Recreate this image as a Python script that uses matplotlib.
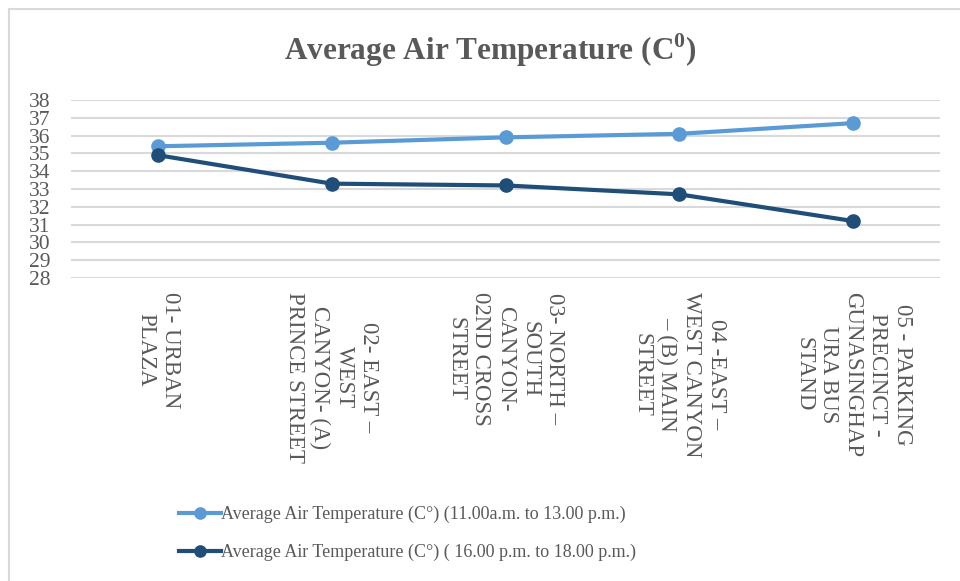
import numpy as np
import matplotlib
matplotlib.use("Agg")
import matplotlib.pyplot as plt
from matplotlib.lines import Line2D

plt.rcParams['font.family'] = ['Liberation Serif', 'DejaVu Serif']
plt.rcParams['mathtext.fontset'] = 'custom'
plt.rcParams['mathtext.rm'] = 'Liberation Serif'
plt.rcParams['mathtext.bf'] = 'Liberation Serif:bold'

# data
sites = ["01- URBAN\nPLAZA",
         "02- EAST \u2013\nWEST\nCANYON- (A)\nPRINCE STREET",
         "03- NORTH \u2013\nSOUTH\nCANYON-\n02ND CROSS\nSTREET",
         "04 -EAST \u2013\nWEST CANYON\n\u2013 (B) MAIN\nSTREET",
         "05 - PARKING\nPRECINCT -\nGUNASINGHAP\nURA BUS\nSTAND"]
temp_noon = [35.4, 35.6, 35.9, 36.1, 36.7]
temp_evening = [34.9, 33.3, 33.2, 32.7, 31.2]
label_noon = "Average Air Temperature (C\u00b0) (11.00a.m. to 13.00 p.m.)"
label_evening = "Average Air Temperature (C\u00b0) ( 16.00 p.m. to 18.00 p.m.)"
yticks = list(range(28, 39))

grey = '#595959'
light = '#5B9BD5'
dark = '#1F4E79'

fig = plt.figure(figsize=(9.6, 5.81), dpi=100)
ax = fig.add_axes([71/960, 1-278/581, (940-71)/960, (278-100)/581])

x = np.arange(len(sites))
ax.plot(x, temp_noon, color=light, lw=3, marker='o', ms=9.5, label=label_noon, zorder=3)
ax.plot(x, temp_evening, color=dark, lw=3, marker='o', ms=9.5, label=label_evening, zorder=3)

ax.set_xlim(-0.5, len(sites) - 0.5)
ax.set_ylim(28, 38)
ax.set_yticks(yticks)
ax.yaxis.grid(True, color='#d9d9d9', lw=1.5)
ax.set_axisbelow(True)
for s in ax.spines.values():
    s.set_visible(False)
ax.tick_params(axis='both', length=0, colors=grey)
ax.tick_params(axis='y', pad=15, labelsize=15.5)
ax.tick_params(axis='x', pad=10, labelsize=16.5)
ax.set_xticks(x)
ax.set_xticklabels(sites, rotation=270, ha='center', va='top',
                   multialignment='center', linespacing=1.22)

fig.text(490/960, 1-60/581, r'Average Air Temperature (C$^{\mathbf{0}}$)',
         ha='center', va='baseline', fontsize=22.5, fontweight='bold', color=grey)

leg = fig.legend(loc='upper left', bbox_to_anchor=(170/960, 1-497/581),
                 frameon=False, fontsize=13, handlelength=2.3,
                 handletextpad=0.05, labelspacing=1.15, borderpad=0,
                 markerscale=0.85, labelcolor=grey)

# chart border (only top and left edges visible)
fig.add_artist(Line2D([9/960, 9/960], [0, 1-9/581], transform=fig.transFigure,
                      color='#d9d9d9', lw=1.5))
fig.add_artist(Line2D([9/960, 1], [1-9/581, 1-9/581], transform=fig.transFigure,
                      color='#d9d9d9', lw=1.5))

fig.savefig('out.png', dpi=100)
